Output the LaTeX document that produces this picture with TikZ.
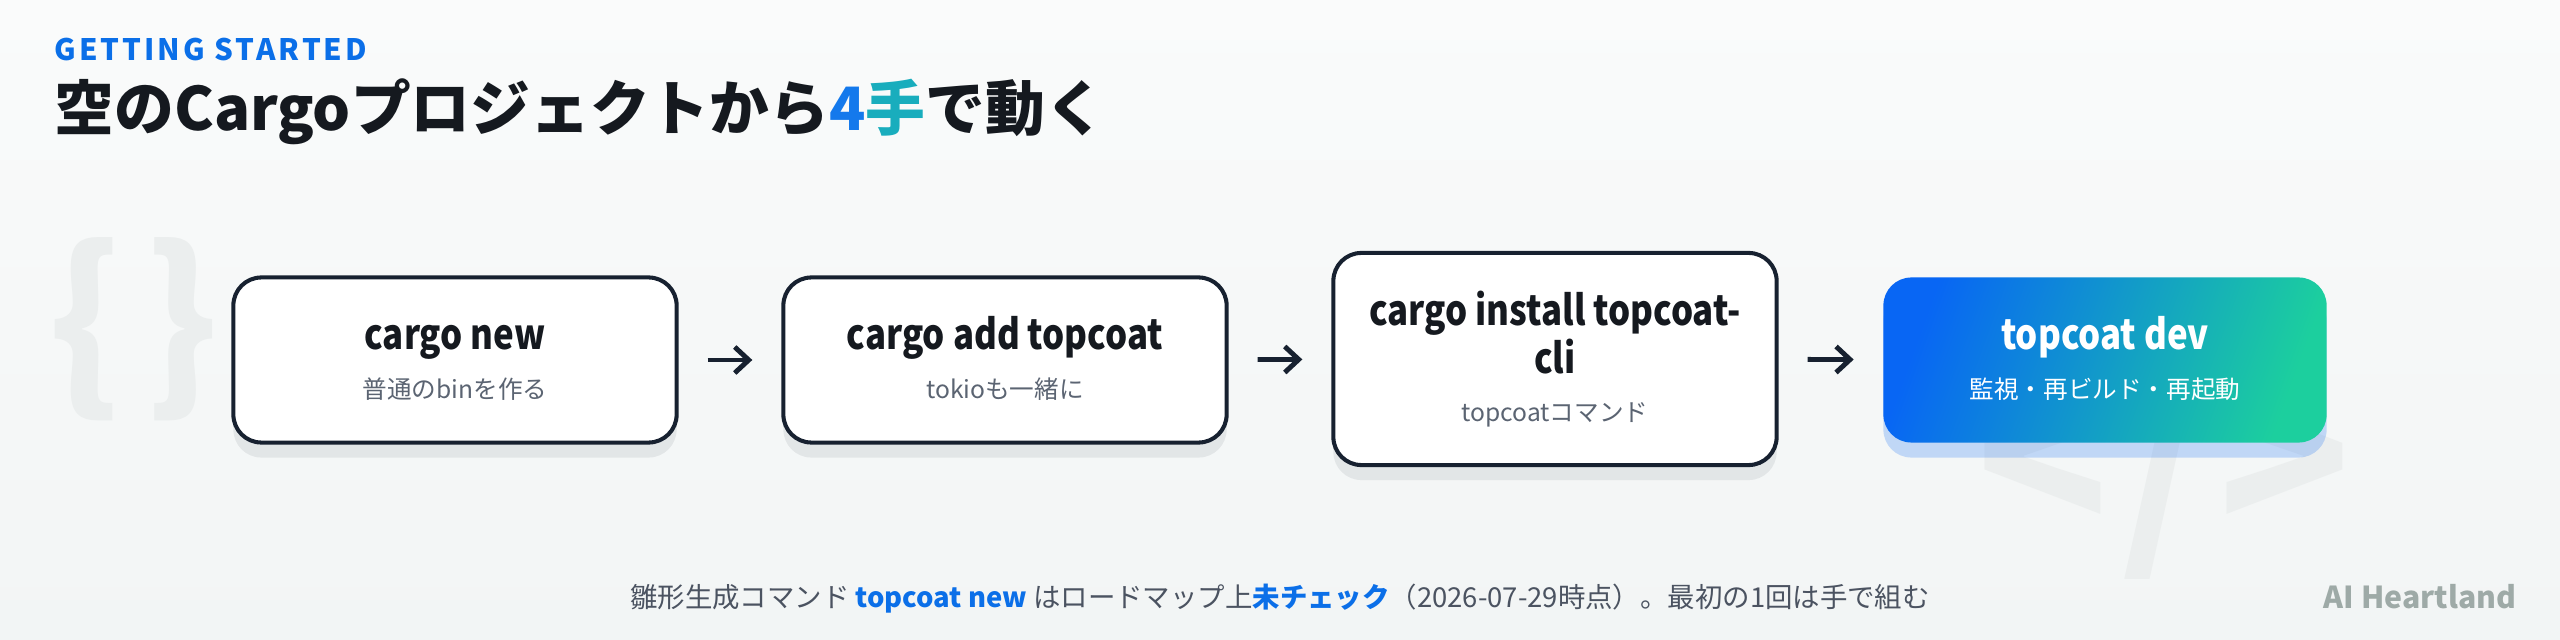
\documentclass[tikz,border=0pt]{standalone}
\usepackage{fontspec}
\setmainfont{Noto Sans CJK JP}
\newfontfamily\stepfont{Noto Sans CJK JP}[FakeStretch=0.84]
\usetikzlibrary{arrows.meta,shadows}

\definecolor{ink}{HTML}{15191F}
\definecolor{frame}{HTML}{172130}
\definecolor{subgray}{HTML}{5B6472}
\definecolor{accent}{HTML}{0B6FE8}
\definecolor{fourblue}{HTML}{1479EC}
\definecolor{handteal}{HTML}{19ADBD}
\definecolor{bgtop}{HTML}{FAFBFB}
\definecolor{bgbot}{HTML}{F2F5F5}
\definecolor{ghost}{HTML}{EBEEEE}
\definecolor{gradA}{HTML}{0866F4}
\definecolor{gradB}{HTML}{1CCF9E}
\definecolor{brandgray}{HTML}{9EAAA7}
\definecolor{capgray}{HTML}{4B5361}

% title line(s) + small note, with fixed struts so every box centres alike
\newcommand{\steptext}[3][subgray]{\rule{0pt}{9.5pt}#2\\[1.6pt]%
  {\fontsize{7}{8}\normalfont\mdseries\color{#1}#3\rule[-1.5pt]{0pt}{0pt}}}

\begin{document}
\begin{tikzpicture}
  [x=0.01cm,y=-0.01cm,
   boxbase/.style={rectangle,rounded corners=0.28cm,minimum width=4.43cm,minimum height=1.65cm,
     align=center,font=\stepfont\fontsize{11.8}{12.2}\selectfont\bfseries},
   stepbox/.style={boxbase,draw=frame,line width=1.15pt,fill=white,text=ink,
     drop shadow={shadow xshift=0cm,shadow yshift=-0.15cm,fill=frame,opacity=.08}},
   lastbox/.style={boxbase,text=white,top color=gradA,bottom color=gradB,shading angle=70,
     drop shadow={shadow xshift=0cm,shadow yshift=-0.15cm,fill=gradA,opacity=.22}},
   flow/.style={draw=frame,line width=1.4pt,-{Straight Barb[length=1.4mm,width=2.6mm]},
     shorten <=0.29cm,shorten >=0.29cm}]

  % background
  \shade[top color=bgtop,bottom color=bgbot] (0,0) rectangle (2560,640);
  \useasboundingbox (0,0) rectangle (2560,640);

  % faint code marks
  \node[text=ghost,font=\fontsize{53}{53}\selectfont\bfseries] (braces) at (134,329) {\{\hspace{0.12em}\}};
  \node[anchor=base,text=ghost,font=\fontsize{62}{62}\selectfont\bfseries] (tag) at (2164,540)
    {<\hspace{0.06em}/\hspace{0.06em}>};

  \node[anchor=base west,inner sep=0,text=accent,
    font=\fontsize{8.4}{10}\selectfont\bfseries\addfontfeature{LetterSpace=10}] (kicker) at (54,61) {GETTING STARTED};
  \node[anchor=base west,inner sep=0,text=ink,font=\fontsize{17}{20}\selectfont\bfseries] (title) at (54,131)
    {空のCargoプロジェクトから{\color{fourblue}4}{\color{handteal}手}で動く};

  \node[stepbox] (b1) at (455,360) {\steptext{cargo new}{普通のbinを作る}};
  \node[stepbox] (b2) at (1005,360) {\steptext{cargo add topcoat}{tokioも一緒に}};
  \node[stepbox,minimum height=2.12cm] (b3) at (1555,359) {\steptext{cargo install topcoat-\\cli}{topcoatコマンド}};
  \node[lastbox] (b4) at (2105,360) {\steptext[white]{topcoat dev}{監視・再ビルド・再起動}};

  \foreach \from/\to in {b1/b2, b2/b3, b3/b4}
    \draw[flow] (\from) -- (\to);

  \node[anchor=base,inner sep=0,text=capgray,font=\fontsize{7.8}{9}\selectfont] (note) at (1280,607)
    {雛形生成コマンド {\color{accent}\bfseries topcoat new} はロードマップ上{\color{accent}\bfseries 未チェック}（2026-07-29時点）。最初の1回は手で組む};
  \node[anchor=base east,inner sep=0,text=brandgray,font=\fontsize{8.6}{10}\selectfont\bfseries] (brand) at (2517,608) {AI Heartland};

\end{tikzpicture}
\end{document}
